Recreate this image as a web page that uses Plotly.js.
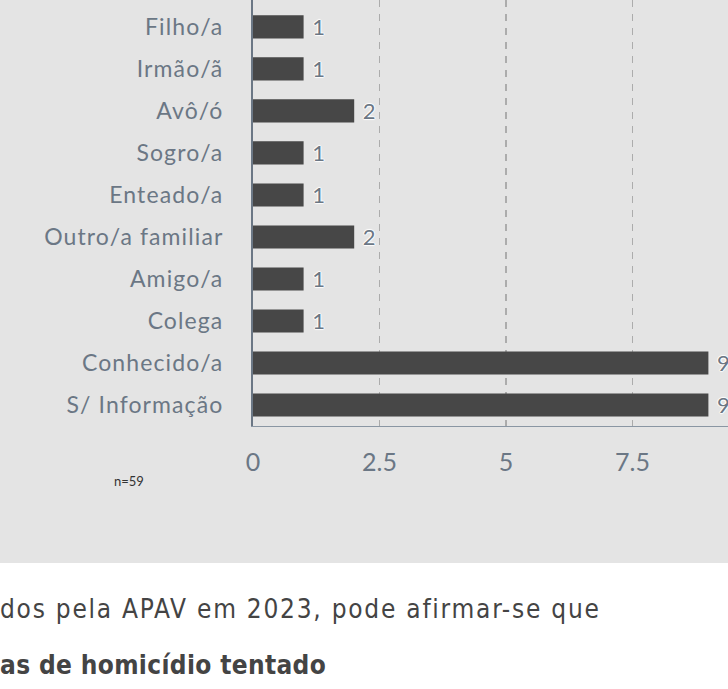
<!DOCTYPE html>
<html><head><meta charset="utf-8">
<script src="https://cdn.plot.ly/plotly-3.0.1.min.js"></script>
<style>
html,body{margin:0;padding:0;background:#fff;overflow:hidden;width:728px;height:689px;}
#chart{position:absolute;left:0;top:0;width:800px;height:563px;}
.txt{position:absolute;left:0;white-space:nowrap;color:#444;font-family:"DejaVu Sans Condensed","DejaVu Sans",sans-serif;font-size:26px;line-height:26px;letter-spacing:1.75px;}
#chart .ytick text{letter-spacing:1.1px;}
</style></head><body>
<div id="chart"></div>
<div class="txt" style="top:596px;">dos pela APAV em 2023, pode afirmar-se que</div>
<div class="txt" style="top:652px;font-weight:bold;letter-spacing:0.35px;">as de homicídio tentado</div>
<script>
const categories = ["Filho/a","Irmão/ã","Avô/ó","Sogro/a","Enteado/a","Outro/a familiar","Amigo/a","Colega","Conhecido/a","S/ Informação"];
const values = [1,1,2,1,1,2,1,1,9,9];
const xTicks = [0,2.5,5,7.5];
const xTickLabels = ["0","2.5","5","7.5"];
const note = "n=59";

Plotly.newPlot("chart",[{
  type:"bar", orientation:"h", y:categories, x:values,
  marker:{color:"#474747"},
  texttemplate:"\u00a0%{x}", textposition:"outside", cliponaxis:false, constraintext:"none",
  textfont:{family:"Lato",size:22,color:"#6b7785",
    shadow:"1px 0 1px #fff, -1px 0 1px #fff, 0 1px 1px #fff, 0 -1px 1px #fff"},
  hoverinfo:"none"
}],{
  width:800,height:563,
  margin:{l:253,r:41,t:0,b:137},
  paper_bgcolor:"#e4e4e4", plot_bgcolor:"#e4e4e4",
  bargap:0.45, showlegend:false,
  font:{family:"Lato",color:"#6b7785"},
  xaxis:{range:[0,10],tickvals:xTicks,ticktext:xTickLabels,
    showgrid:true,gridcolor:"#acacac",griddash:"7px,7px",gridwidth:1.6,
    zeroline:false,showline:true,linecolor:"#8a96a3",linewidth:1,
    ticks:"inside",ticklen:5,tickcolor:"#aaaaaa",ticklabelstandoff:14,
    tickfont:{family:"Lato",size:25,color:"#6b7785"},fixedrange:true},
  yaxis:{type:"category",range:[9.5,-0.64],showgrid:false,zeroline:false,
    showline:true,linecolor:"#6b7785",linewidth:2,ticks:"",ticklabelstandoff:23,
    tickfont:{family:"Lato",size:23,color:"#6b7785"},fixedrange:true},
  annotations:[{xref:"paper",yref:"paper",x:-0.246,y:-0.13,xanchor:"center",yanchor:"middle",
    text:note,showarrow:false,font:{family:"Lato",size:13,color:"#333"}}]
},{displayModeBar:false,staticPlot:true});
</script></body></html>
